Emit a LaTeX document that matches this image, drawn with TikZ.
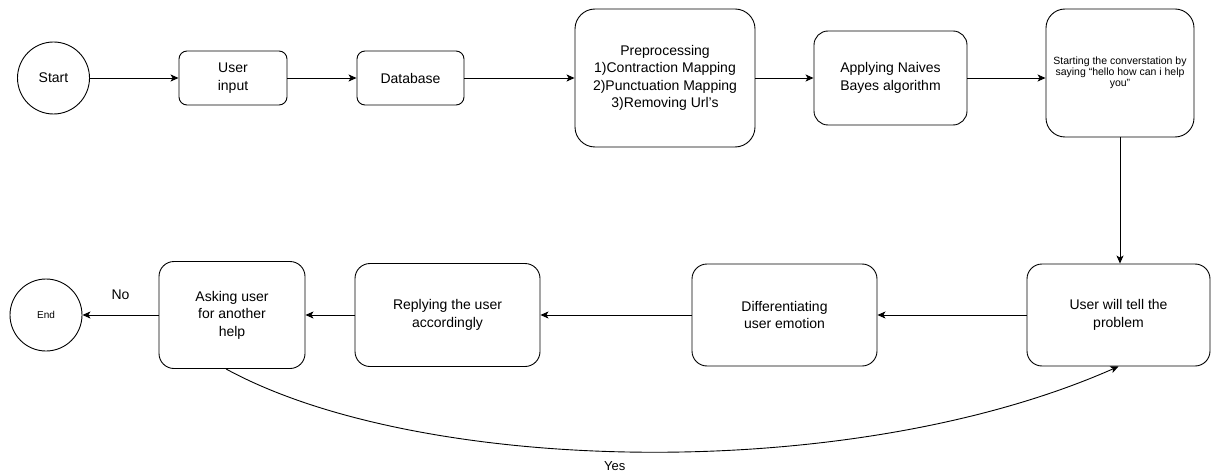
\documentclass[tikz,border=0pt]{standalone}
\usepackage{fontspec}
\setmainfont{Liberation Sans}
\usetikzlibrary{arrows.meta}

\begin{document}
\begin{tikzpicture}[x=1pt,y=-1pt,
  box/.style={draw, line width=0.9pt, align=center, inner sep=0pt, font=\fontsize{14}{17.5}\selectfont},
  circ/.style={draw, circle, line width=0.9pt, inner sep=0pt, minimum size=72pt, font=\fontsize{14}{17.5}\selectfont},
  flow/.style={draw, line width=0.9pt, -{Stealth[length=8pt,width=7pt,inset=2pt]}},
  lbl/.style={inner sep=0pt, font=\fontsize{14}{17.5}\selectfont}]
\useasboundingbox (0,0) rectangle (1212,476);
% Drawing the top row
\node[circ] (start) at (53.5,78) {Start};
\node[box, minimum width=108pt, minimum height=54pt, rounded corners=8pt] (input) at (233,78) {User\\input};
\node[box, minimum width=107pt, minimum height=54pt, rounded corners=8pt] (database) at (410.5,78) {Database};
\node[box, minimum width=180pt, minimum height=138pt, rounded corners=20pt] (preproc) at (665,78) {Preprocessing\\1)Contraction Mapping\\2)Punctuation Mapping\\3)Removing Url’s};
\node[box, minimum width=153pt, minimum height=94pt, rounded corners=14pt] (naive) at (890.5,78) {Applying Naives\\Bayes algorithm};
\node[box, font=\fontsize{10.5}{11}\selectfont, minimum width=148pt, minimum height=128pt, rounded corners=19pt] (greet) at (1120,73) {Starting the converstation by\\saying “hello how can i help\\you”};
% Drawing the bottom row
\node[box, minimum width=183pt, minimum height=102pt, rounded corners=15pt] (problem) at (1118.5,315) {User will tell the\\problem};
\node[box, minimum width=185pt, minimum height=102pt, rounded corners=15pt] (emotion) at (784.5,315) {Differentiating\\user emotion};
\node[box, minimum width=185pt, minimum height=103pt, rounded corners=15pt] (reply) at (447.5,315) {Replying the user\\accordingly};
\node[box, minimum width=146pt, minimum height=107pt, rounded corners=15pt] (ask) at (232,315) {Asking user\\for another\\help};
\node[circ, font=\fontsize{10}{12}\selectfont] (finish) at (46,315) {End};
% Done with nodes; drawing arrows
\draw[flow] (start) -- (input);
\draw[flow] (input) -- (database);
\draw[flow] (database) -- (preproc);
\draw[flow] (preproc) -- (naive);
\draw[flow] (naive) -- (naive -| greet.west);
\draw[flow] (greet) -- (greet |- problem.north);
\draw[flow] (problem) -- (emotion);
\draw[flow] (emotion) -- (reply);
\draw[flow] (reply) -- (ask);
\draw[flow] (ask) -- node[lbl, yshift=20pt] {No} (finish);
\draw[flow] ([xshift=-6pt]ask.south) .. controls (420,475) and (850,485) .. (problem.south) node[lbl, font=\fontsize{13}{15}\selectfont, pos=0.47, below=10pt] {Yes};
\end{tikzpicture}
\end{document}
